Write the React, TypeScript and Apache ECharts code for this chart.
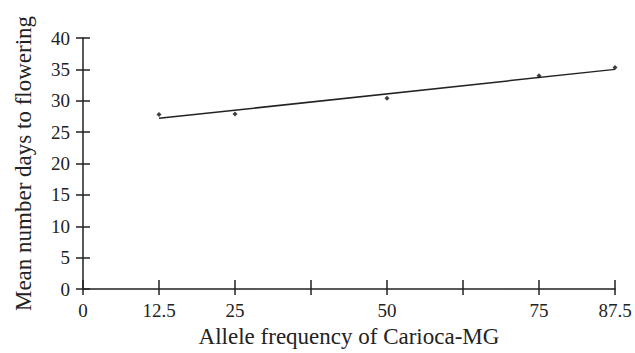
import React, { useEffect, useRef } from "react";
import * as echarts from "echarts";

const xTicks = [0, 12.5, 25, 37.5, 50, 62.5, 75, 87.5];
const xLabelShown = ["0", "12.5", "25", "", "50", "", "75", "87.5"];
const alleleFreq = [12.5, 25, 50, 75, 87.5];
const meanDays = [27.8, 27.9, 30.4, 34.0, 35.3];
const trendX = [12.5, 87.5];
const trendY = [27.2, 35.0];

const FONT = "'Liberation Serif', 'Times New Roman', serif";
const INK = "#222";

export default function App() {
  const ref = useRef<HTMLDivElement>(null);
  useEffect(() => {
    if (!ref.current) return;
    const chart = echarts.init(ref.current, undefined, { renderer: "svg" });
    const labelFmt = (v: number) => {
      const i = xTicks.indexOf(v);
      return i >= 0 ? xLabelShown[i] : "";
    };
    const commonX = {
      type: "value" as const,
      min: 0,
      max: 87.5,
      interval: 12.5,
      position: "bottom" as const,
      splitLine: { show: false },
    };
    const commonY = {
      type: "value" as const,
      min: 0,
      max: 40,
      interval: 5,
      position: "left" as const,
      splitLine: { show: false },
    };
    chart.setOption({
      animation: false,
      backgroundColor: "#fff",
      grid: { left: 83, right: 20, top: 38, bottom: 64, containLabel: false, outerBoundsMode: "none" },
      xAxis: [
        {
          ...commonX,
          name: "Allele frequency of Carioca-MG",
          nameLocation: "middle",
          nameGap: 36,
          nameTextStyle: { fontFamily: FONT, fontSize: 23, color: INK },
          axisLine: { show: true, lineStyle: { color: INK, width: 1.5 } },
          axisTick: { show: true, length: 6, lineStyle: { color: INK, width: 1.5 } },
          axisLabel: {
            fontFamily: FONT,
            fontSize: 19,
            color: INK,
            margin: 12,
            formatter: labelFmt,
          },
        },
        {
          ...commonX,
          axisLine: { show: false },
          axisTick: { show: true, inside: true, length: 9, lineStyle: { color: INK, width: 1.5 } },
          axisLabel: { show: false },
        },
      ],
      yAxis: [
        {
          ...commonY,
          name: "Mean number days to flowering",
          nameLocation: "middle",
          nameGap: 48,
          nameTextStyle: { fontFamily: FONT, fontSize: 23, color: INK },
          axisLine: { show: true, lineStyle: { color: INK, width: 1.5 } },
          axisTick: { show: true, length: 7, lineStyle: { color: INK, width: 1.5 } },
          axisLabel: { fontFamily: FONT, fontSize: 19, color: INK, margin: 13 },
        },
        {
          ...commonY,
          axisLine: { show: false },
          axisTick: { show: true, inside: true, length: 7, lineStyle: { color: INK, width: 1.5 } },
          axisLabel: { show: false },
        },
      ],
      series: [
        {
          type: "line",
          data: trendX.map((x, i) => [x, trendY[i]]),
          showSymbol: false,
          symbol: "none",
          lineStyle: { color: INK, width: 1.5 },
          z: 2,
        },
        {
          type: "scatter",
          data: alleleFreq.map((x, i) => [x, meanDays[i]]),
          symbol: "diamond",
          symbolSize: 5,
          itemStyle: { color: "#111" },
          z: 3,
        },
      ],
    });
    return () => chart.dispose();
  }, []);
  return (
    <div
      ref={ref}
      style={{ position: "fixed", left: 0, top: 0, width: 635, height: 353 }}
    />
  );
}
